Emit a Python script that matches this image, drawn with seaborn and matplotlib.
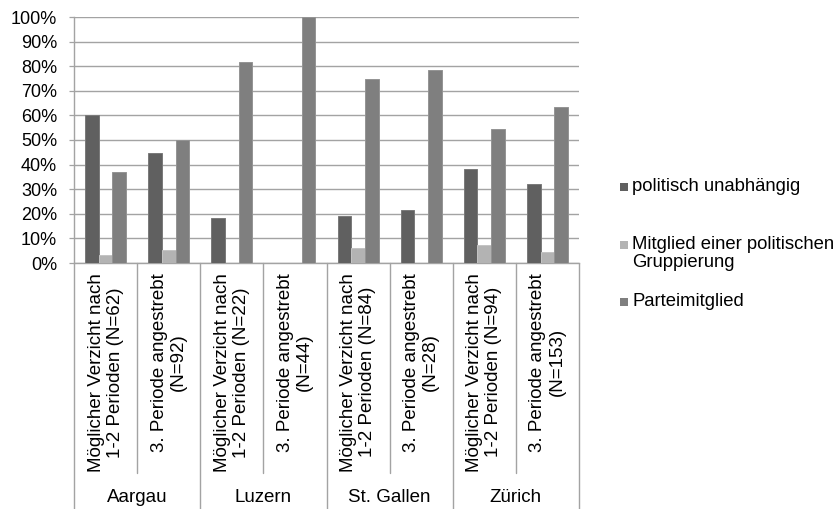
import matplotlib
matplotlib.use("Agg")
import matplotlib.pyplot as plt
import matplotlib.transforms as mtransforms
from matplotlib.patches import Rectangle
import seaborn as sns
import pandas as pd

# Kantone und Untergruppen
cantons = ["Aargau", "Luzern", "St. Gallen", "Zürich"]
subgroups = [
    "Möglicher Verzicht nach\n1-2 Perioden (N=62)",
    "3. Periode angestrebt\n(N=92)",
    "Möglicher Verzicht nach\n1-2 Perioden (N=22)",
    "3. Periode angestrebt\n(N=44)",
    "Möglicher Verzicht nach\n1-2 Perioden (N=84)",
    "3. Periode angestrebt\n(N=28)",
    "Möglicher Verzicht nach\n1-2 Perioden (N=94)",
    "3. Periode angestrebt\n(N=153)",
]
series = ["politisch unabhängig", "Mitglied einer politischen\nGruppierung", "Parteimitglied"]

# Anteile in Prozent
unabhaengig = [60.0, 44.6, 18.2, 0.0, 19.0, 21.4, 38.3, 32.0]
gruppierung = [3.2, 5.4, 0.0, 0.0, 6.0, 0.0, 7.4, 4.6]
partei = [37.0, 50.0, 81.8, 100.0, 75.0, 78.6, 54.3, 63.4]

yticks = [0, 10, 20, 30, 40, 50, 60, 70, 80, 90, 100]
ytick_labels = [f"{v}%" for v in yticks]

colors = ["#606060", "#b3b3b3", "#7f7f7f"]
edge_colors = ["#7a7a7a", "#c4c4c4", "#949494"]
grid_color = "#a3a3a3"

slots = [f"s{i}" for i in range(len(subgroups))]
rows = []
for name, vals in zip(series, [unabhaengig, gruppierung, partei]):
    for slot, v in zip(slots, vals):
        rows.append({"slot": slot, "serie": name, "wert": v})
df = pd.DataFrame(rows)

sns.set_theme(style="white")
plt.rcParams["font.family"] = ["Liberation Sans", "DejaVu Sans"]

fig = plt.figure(figsize=(8.38, 5.09), dpi=100)
W, H = 838, 509
left, right, top, bottom = 74, 579, 17, 263
ax = fig.add_axes([left / W, 1 - bottom / H, (right - left) / W, (bottom - top) / H])

sns.barplot(data=df, x="slot", y="wert", hue="serie", order=slots, hue_order=series,
            palette=colors, width=0.65, dodge=True, saturation=1, ax=ax,
            legend=False, errorbar=None, zorder=3)

# leichte Umrandung der Balken
for container, ec in zip(ax.containers, edge_colors):
    for bar in container:
        bar.set_edgecolor(ec)
        bar.set_linewidth(0.7)

ax.set_xlim(-0.5, len(slots) - 0.5)
ax.set_ylim(0, 100)
ax.set_yticks(yticks)
ax.set_yticklabels(ytick_labels, fontsize=13, color="black")
ax.yaxis.grid(True, color=grid_color, linewidth=1.0, zorder=0)
ax.set_axisbelow(True)
ax.tick_params(axis="y", direction="out", length=3.6, width=0.9, color=grid_color,
               pad=8.5, left=True)
ax.set_xticks([])
ax.set_xlabel("")
ax.set_ylabel("")
for s in ["top", "right"]:
    ax.spines[s].set_visible(False)
for s in ["left", "bottom"]:
    ax.spines[s].set_color(grid_color)
    ax.spines[s].set_linewidth(1.0)

# Mehrstufige Kategorienachse
trans = mtransforms.blended_transform_factory(ax.transData, ax.transAxes)
for xb in [-0.5, 1.5, 3.5, 5.5, 7.5]:
    ax.plot([xb, xb], [0, -1.0], transform=trans, color=grid_color, lw=1.0, clip_on=False)
for xb in [0.5, 2.5, 4.5, 6.5]:
    ax.plot([xb, xb], [0, -0.855], transform=trans, color=grid_color, lw=1.0, clip_on=False)

for i, lab in enumerate(subgroups):
    ax.text(i, -0.04, lab, transform=trans, rotation=90, ha="center", va="top",
            multialignment="center", fontsize=13.5, color="black", linespacing=1.15)
for j, c in enumerate(cantons):
    ax.text(2 * j + 0.5, -0.955, c, transform=trans, ha="center", va="center",
            fontsize=13.5, color="black")

# Legende
legend_y = [187, 245, 302]
for name, col, yy in zip(series, colors, legend_y):
    fig.patches.append(Rectangle((620 / W, 1 - (yy + 4) / H), 8 / W, 8 / H,
                                 transform=fig.transFigure, facecolor=col,
                                 edgecolor="none"))
    fig.text(632 / W, 1 - (yy - 9) / H, name, ha="left", va="top",
             fontsize=13.3, color="black", linespacing=1.1)

fig.savefig("out.png", dpi=100)
